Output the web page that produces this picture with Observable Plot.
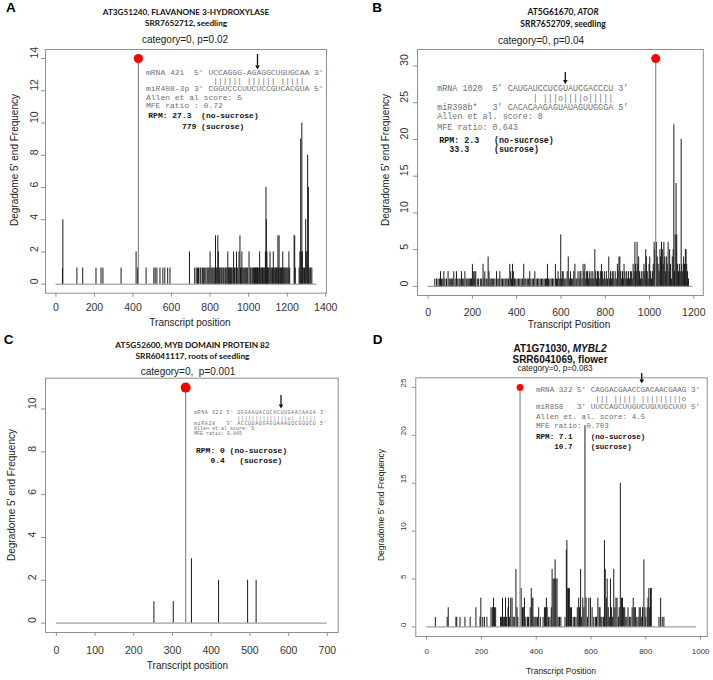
<!DOCTYPE html>
<html>
<head>
<meta charset="utf-8">
<script src="https://cdn.jsdelivr.net/npm/d3@7"></script>
<script src="https://cdn.jsdelivr.net/npm/@observablehq/plot@0.6"></script>
<style>
html,body{margin:0;padding:0;background:#fff;}
#root{position:relative;width:713px;height:680px;overflow:hidden;font-family:"Liberation Sans",Arial,sans-serif;color:#222;}
.pl{position:absolute;}
.pl svg{display:block;}
.abs{position:absolute;white-space:pre;line-height:1;}
.mono{font-family:"Liberation Mono","Courier New",monospace;color:#707070;}
.monob{font-family:"Liberation Mono","Courier New",monospace;color:#111;font-weight:bold;}
.cal{font-family:Lato,"Open Sans",sans-serif;font-weight:bold;color:#111;}
.arl{font-family:"Liberation Sans",Arial,sans-serif;color:#222;}
</style>
</head>
<body>
<div id="root"></div>
<script>
// ---------------- DATA ----------------
// Panel A: AT3G51240 (transcript position, degradome 5' end frequency)
const spikesA = [[34,1],[36,4],[109,1],[139,1],[208,1],[234,1],[244,1],[338,1],[416,2],[424,1],[468,1],[508,1],[515,1],[524,1],[540,1],[555,1],[565,1],[580,1],[592,1],[693,2],
[720,1],[728,1],[735,1],[740,1],[748,1],[752,1],[760,1],[765,1],[772,1],[778,1],[785,1],[790,1],[795,1],[800,2],[805,1],[810,1],[815,1],[820,1],[825,1],[828,3],[832,1],[836,1],[840,3],[843,2],[848,1],[852,1],[858,1],[862,1],[868,1],[872,1],[878,1],[882,1],[887,1],[892,2],[895,1],[898,1],[902,1],[905,1],[908,1],[912,1],[918,1],[922,2],[926,1],[930,1],[937,2],[940,1],[945,1],[950,2],[955,3],[958,1],[962,1],[965,2],[970,1],[975,1],[980,1],[985,1],[990,1],[995,1],
[1002,2],[1008,1],[1012,1],[1018,1],[1022,1],[1026,1],[1030,1],[1033,1],[1036,1],[1040,1],[1043,1],[1046,1],[1050,1],[1054,1],[1057,2],[1060,1],[1064,1],[1068,1],[1072,1],[1076,1],[1080,1],[1084,1],[1087,2],[1090,6],[1092,4],[1095,2],[1098,1],[1102,1],[1106,1],[1111,2],[1115,1],[1120,1],[1124,1],[1128,2],[1132,1],[1136,1],[1140,1],[1144,1],[1148,1],[1152,3],[1155,1],[1158,3],[1162,1],[1166,1],[1170,1],[1174,1],[1177,2],[1180,1],[1185,1],[1190,1],[1195,1],[1200,1],[1205,1],[1209,2],[1213,1],
[1236,3],[1239,3],[1242,1],[1262,1],[1266,2],[1270,9],[1273,2],[1276,10],[1279,2],[1284,1],[1290,1],[1296,4],[1298,2],[1302,2],[1306,8],[1310,6],[1313,1],[1318,1],[1322,1],[1328,1]];
const targetA = [428, 14];
const baseA = [0, 1355];
const xTicksA = [0,200,400,600,800,1000,1200,1400];
const yTicksA = [0,2,4,6,8,10,12,14];

// Panel B: AT5G61670
const spikesB = [[30,1],[38,1],[45,1],[52,1],[56,2],[60,1],[66,1],[71,2],[76,1],[83,1],[90,2],[95,1],[100,1],[105,1],[111,1],[116,2],[122,1],[128,2],[134,1],[140,1],[145,1],[151,2],[156,1],[161,1],[166,2],[172,1],[176,1],[181,1],[186,1],[191,1],[196,1],[200,3],[204,2],[208,1],[211,2],[215,2],[222,1],[228,1],[236,1],[242,1],[248,3],[252,1],[256,2],[262,1],[266,1],[271,4],[275,2],[280,1],[285,1],[290,1],[296,1],[302,1],[309,2],[315,1],[320,1],[324,2],[330,1],[336,1],[342,1],[348,1],[352,1],[357,1],[363,1],[369,3],[373,2],[377,1],[381,3],[385,2],[390,1],[396,1],[402,1],[408,1],[414,1],[420,1],[426,1],[432,3],[437,1],[442,1],[448,1],[454,1],[459,2],[464,1],[470,1],[476,1],[482,2],[488,1],[494,1],[500,1],[506,1],[512,1],[518,1],[524,1],[530,1],[535,1],[539,3],[544,1],[550,1],[556,1],[562,1],[568,1],[575,3],[580,1],[584,1],[587,2],[592,1],[596,1],[599,7],[603,1],[606,2],[610,2],[614,1],[618,1],[623,1],[628,2],[633,4],[638,1],[643,2],[648,1],[653,1],[658,2],[663,3],[668,1],[672,1],[677,2],[682,1],[686,2],[690,2],[695,1],[700,3],[704,2],[708,3],[712,1],[716,2],[720,2],[724,1],[728,2],[732,1],[736,2],[740,1],[744,2],[748,1],[753,5],[757,2],[761,1],[765,2],[769,2],[773,1],[778,2],[783,3],[787,2],[791,1],[796,2],[800,1],[805,2],[810,1],[816,4],[820,1],[824,2],[828,1],[832,2],[836,2],[840,1],[845,2],[850,1],[855,3],[858,2],[862,4],[866,4],[870,2],[874,1],[878,2],[882,1],[885,3],[889,2],[893,1],[897,2],[901,1],[905,2],[910,1],[914,2],[918,2],[922,1],[926,3],[930,2],[934,6],[937,3],[940,2],[944,6],[947,3],[951,4],[955,2],[959,1],[963,2],[967,1],[971,2],[975,3],[979,2],[983,5],[986,4],[990,2],[994,1],[998,3],[1001,4],[1005,2],[1009,1],[1013,2],[1017,3],[1021,6],[1024,5],[1032,6],[1035,4],[1039,3],[1043,2],[1047,5],[1050,4],[1054,6],[1058,5],[1062,3],[1065,6],[1069,4],[1073,2],[1076,4],[1080,3],[1084,6],[1088,2],[1091,5],[1095,3],[1099,1],[1103,4],[1107,5],[1110,22],[1113,2],[1116,7],[1120,14],[1123,7],[1127,3],[1131,2],[1135,3],[1139,2],[1143,20],[1146,3],[1150,2],[1154,4],[1158,3],[1162,5],[1165,5],[1168,3],[1172,2],[1176,1]];
const targetB = [1028, 31];
const baseB = [0, 1195];
const xTicksB = [0,200,400,600,800,1000,1200];
const yTicksB = [0,5,10,15,20,25,30];

// Panel C: AT5G52600
const spikesC = [[252,1],[302,1],[349,3],[419,2],[494,2],[516,2]];
const targetC = [334, 11];
const baseC = [0, 700];
const xTicksC = [0,100,200,300,400,500,600,700];
const yTicksC = [0,2,4,6,8,10];

// Panel D: AT1G71030
const spikesD = [[32,1],[75,1],[79,2],[107,1],[110,1],[122,1],[140,1],[159,1],[180,2],[195,1],[198,3],[205,1],[211,1],[220,1],[235,2],[240,2],[244,3],[248,2],[252,2],[270,1],[273,1],[277,3],[280,1],[284,1],[288,3],[292,1],[297,2],[299,3],[303,1],[307,3],[312,3],[316,1],[320,1],[326,6],[330,2],[333,1],[345,4],[350,2],[353,2],[357,3],[362,1],[368,1],[372,1],[378,2],[382,4],[385,3],[388,3],[392,1],[396,1],[400,1],[405,1],[409,2],[415,1],[425,1],[430,2],[434,2],[437,3],[440,2],[445,1],[450,1],[455,2],[458,6],[462,5],[466,5],[469,7],[472,5],[476,5],[480,1],[485,1],[490,1],[505,1],[510,8],[512,9],[515,4],[518,4],[521,4],[525,2],[529,2],[535,1],[540,1],[545,1],[550,2],[555,3],[558,2],[562,6],[565,1],[570,3],[574,2],[578,21],[582,3],[587,1],[592,3],[598,3],[604,2],[610,1],[616,1],[620,1],[625,3],[630,2],[633,2],[636,1],[640,1],[645,1],[649,9],[652,6],[656,3],[659,5],[663,2],[667,1],[671,5],[675,2],[679,1],[683,6],[687,2],[691,3],[695,3],[700,1],[703,2],[707,15],[711,3],[715,3],[719,2],[723,2],[727,1],[731,1],[735,2],[740,1],[745,1],[750,2],[754,3],[758,2],[762,2],[767,1],[772,1],[776,2],[780,2],[785,1],[788,2],[793,7],[797,2],[800,1],[805,2],[808,3],[811,4],[814,2],[817,4],[820,4],[848,1],[854,3],[860,1],[866,1]];
const targetD = [341, 25];
const baseD = [0, 985];
const xTicksD = [0,200,400,600,800,1000];
const yTicksD = [0,5,10,15,20,25];

// ---------------- DRAW ----------------
const root = document.getElementById("root");

function panel(cfg) {
  const sp = cfg.spikes.map(([p, v]) => ({p, v}));
  const tg = [{p: cfg.target[0], v: cfg.target[1]}];
  const svg = Plot.plot({
    width: cfg.box[2], height: cfg.box[3],
    marginTop: cfg.m[0], marginRight: cfg.m[1], marginBottom: cfg.m[2], marginLeft: cfg.m[3],
    style: {background: "transparent", fontFamily: '"Liberation Sans", Arial, sans-serif', color: "#333", overflow: "visible"},
    x: {domain: cfg.xDomain},
    y: {domain: cfg.yDomain},
    marks: [
      Plot.ruleY([0], {x1: cfg.base[0], x2: cfg.base[1], stroke: "#8a8a8a", strokeWidth: 1}),
      Plot.ruleX(sp, {x: "p", y1: 0, y2: "v", stroke: "#1a1a1a", strokeWidth: 1}),
      Plot.ruleX(tg, {x: "p", y1: 0, y2: "v", stroke: "#8a8a8a", strokeWidth: 1.2}),
      Plot.dot(tg, {x: "p", y: "v", r: cfg.r, fill: "#ff0000"}),
      Plot.frame({stroke: "#8f8f8f", strokeWidth: 1}),
      Plot.axisX({ticks: cfg.xTicks, tickFormat: d => String(d), tickSize: cfg.ts, tickPadding: cfg.xpad, fontSize: cfg.fs, label: null, stroke: "#8f8f8f", fill: "#333"}),
      Plot.axisY({ticks: cfg.yTicks, tickSize: cfg.ts, tickFormat: () => "", label: null, stroke: "#8f8f8f"}),
      Plot.text(cfg.yTicks, {y: d => d, text: d => String(d), frameAnchor: "left", dx: -cfg.ydx, rotate: -90, fontSize: cfg.fs, fill: "#333"})
    ]
  });
  const wrap = document.createElement("div");
  wrap.className = "pl";
  wrap.style.left = cfg.box[0] + "px";
  wrap.style.top = cfg.box[1] + "px";
  wrap.appendChild(svg);
  root.appendChild(wrap);
}

panel({box: [0, 0, 356, 330], m: [49, 30, 37.3, 45], xDomain: [-54, 1404], yDomain: [-0.56, 14.56],
  xTicks: xTicksA, yTicks: yTicksA, spikes: spikesA, target: targetA, base: baseA, r: 4.6, ts: 4, xpad: 6.2, fs: 10.5, ydx: 10.5});
panel({box: [356, 0, 357, 330], m: [49, 10.2, 35, 61], xDomain: [-48, 1243], yDomain: [-1.24, 32.24],
  xTicks: xTicksB, yTicks: yTicksB, spikes: spikesB, target: targetB, base: baseB, r: 4.5, ts: 4, xpad: 8.9, fs: 10.5, ydx: 13});
panel({box: [0, 330, 356, 350], m: [47.7, 18.3, 48, 45], xDomain: [-28, 728], yDomain: [-0.44, 11.44],
  xTicks: xTicksC, yTicks: yTicksC, spikes: spikesC, target: targetC, base: baseC, r: 5, ts: 4, xpad: 10.2, fs: 10.5, ydx: 13});
panel({box: [356, 330, 357, 350], m: [47.3, 6.3, 44, 59.3], xDomain: [-39.4, 1024], yDomain: [-1, 26],
  xTicks: xTicksD, yTicks: yTicksD, spikes: spikesD, target: targetD, base: baseD, r: 3.4, ts: 3.5, xpad: 8.6, fs: 8, ydx: 12.6});

// ---------------- TEXT ----------------
function put(html, x, y, cls, size, anchor, extra) {
  const d = document.createElement("div");
  d.className = "abs " + cls;
  d.innerHTML = html;
  d.style.left = x + "px";
  d.style.top = y + "px";
  d.style.fontSize = size + "px";
  d.style.transform = anchor === "c" ? "translate(-50%,-50%)" : anchor === "r" ? "translate(-50%,-50%) rotate(-90deg)" : "translate(0,-50%)";
  if (extra) d.style.cssText += extra;
  root.appendChild(d);
}

// panel letters
put("A", 10.8, 8, "arl", 13.5, "c", "font-weight:bold;color:#000");
put("B", 377, 8, "arl", 13.5, "c", "font-weight:bold;color:#000");
put("C", 8.5, 340, "arl", 13.5, "c", "font-weight:bold;color:#000");
put("D", 377.5, 340, "arl", 13.5, "c", "font-weight:bold;color:#000");

// Panel A texts
put("AT3G51240, FLAVANONE 3-HYDROXYLASE", 186, 11.7, "cal", 8.2, "c");
put("SRR7652712, seedling", 186, 22.7, "cal", 8.2, "c");
put("category=0, p=0.02", 185, 40, "arl", 10, "c");
put("Transcript position", 190, 323, "arl", 10, "c");
put("Degradome 5' end Frequency", 15, 160, "arl", 10, "r");
put("mRNA 421  5’ UCCAGGG-AGAGGCUGUGCAA 3’", 146, 72.7, "mono", 8, "l");
put("              |||||| |||||| |||||", 146, 80.7, "mono", 8, "l");
put("miR408-3p 3’ CGGUCCCUUCUCCGUCACGUA 5’", 146, 89.3, "mono", 8, "l");
put("Allen et al score: 5", 146, 97.7, "mono", 8, "l");
put("MFE ratio : 0.72", 146, 106, "mono", 8, "l");
put("RPM: 27.3  (no-sucrose)", 148.3, 116, "monob", 8, "l");
put("       779 (sucrose)", 148.3, 126.7, "monob", 8, "l");

// Panel B texts
put("AT5G61670, <i>ATOR</i>", 563, 12.3, "cal", 8.5, "c");
put("SRR7652709, seedling", 563, 24, "cal", 8.5, "c");
put("category=0, p=0.04", 541, 41, "arl", 10, "c");
put("Transcript Position", 569, 325, "arl", 10, "c");
put("Degradome 5' end Frequency", 386, 160, "arl", 10, "r");
put("mRNA 1020  5’ CAUGAUCCUCGUAUCGACCCU 3’", 437.3, 89.3, "mono", 8.4, "l");
put("                   | |||o||||o|||||", 437.3, 99, "mono", 8.4, "l");
put("miR398b*   3’ CACACAAGAGUAUAGUUGGGA 5’", 437.3, 108.3, "mono", 8.4, "l");
put("Allen et al. score: 8", 437.3, 117.3, "mono", 8.4, "l");
put("MFE ratio: 0.643", 437.3, 128.3, "mono", 8.4, "l");
put("RPM: 2.3   (no-sucrose)", 439.3, 140.7, "monob", 8.3, "l");
put("  33.3     (sucrose)", 439.3, 150, "monob", 8.3, "l");

// Panel C texts
put("AT5G52600, MYB DOMAIN PROTEIN 82", 192.5, 345, "cal", 8.3, "c");
put("SRR6041117, roots of seedling", 192.5, 356, "cal", 8.3, "c");
put("category=0,  p=0.001", 188, 371.7, "arl", 10, "c");
put("Transcript position", 187.5, 665.7, "arl", 10, "c");
put("Degradome 5' end Frequency", 12.3, 495, "arl", 10, "r");
const cSmall = "letter-spacing:0.6px";
put("mRNA 322 5’ UGGAAUACUCACUUGAACAAGA 3’", 194, 413.3, "mono", 5, "l", cSmall);
put("            ||||||||||||||o| |||||", 194, 418.6, "mono", 5, "l", cSmall);
put("miR828   3’ ACCUUAUGAGUAAAUUCGUUCU 5’", 194, 423.8, "mono", 5, "l", cSmall);
put("Allen et al score: 3", 194, 429.1, "mono", 5, "l");
put("MFE ratio: 0.845", 194, 434.4, "mono", 5, "l");
put("RPM: 0 (no-sucrose)", 196, 451, "monob", 8, "l");
put("   0.4   (sucrose)", 196, 461, "monob", 8, "l");

// Panel D texts
put("AT1G71030, <i>MYBL2</i>", 560, 349.3, "arl", 10, "c", "font-weight:bold;color:#111");
put("SRR6041069, flower", 560, 360, "arl", 10, "c", "font-weight:bold;color:#111");
put("category=0, p=0.083", 555, 369.3, "arl", 8.2, "c");
put("Transcript Position", 561, 671, "arl", 8.5, "c");
put("Degradome 5' end Frequency", 381, 505, "arl", 8.5, "r");
put("mRNA 322 5’ CAGGACGAACCGACAACGAAG 3’", 536, 391, "mono", 7.6, "l");
put("             ||| <span style=\"color:#d04040\">|</span>|||| |||||||||o", 536, 400, "mono", 7.6, "l");
put("miR858   3’ UUCCAGCUUGUCUGUUGCUUU 5’", 536, 408.3, "mono", 7.6, "l");
put("Allen et. al. score: 4.5", 536, 417.7, "mono", 7.6, "l");
put("MFE ratio: 0.703", 536, 426.7, "mono", 7.6, "l");
put("RPM: 7.1    (no-sucrose)", 536, 437.7, "monob", 7.6, "l");
put("    10.7    (sucrose)", 536, 447.7, "monob", 7.6, "l");

// cleavage-site arrows
const arrows = [[257.5, 54, 69.5], [565.3, 72, 84], [281, 395, 408.5], [641.7, 373, 383.5]];
const ns = "http://www.w3.org/2000/svg";
const ov = document.createElementNS(ns, "svg");
ov.setAttribute("width", 713); ov.setAttribute("height", 680);
ov.style.position = "absolute"; ov.style.left = "0"; ov.style.top = "0"; ov.style.pointerEvents = "none";
for (const [x, y1, y2] of arrows) {
  const l = document.createElementNS(ns, "line");
  l.setAttribute("x1", x); l.setAttribute("x2", x); l.setAttribute("y1", y1); l.setAttribute("y2", y2 - 3);
  l.setAttribute("stroke", "#111"); l.setAttribute("stroke-width", "1.3");
  ov.appendChild(l);
  const p = document.createElementNS(ns, "path");
  p.setAttribute("d", `M${x - 2.3},${y2 - 4}L${x + 2.3},${y2 - 4}L${x},${y2}Z`);
  p.setAttribute("fill", "#111");
  ov.appendChild(p);
}
root.appendChild(ov);
</script>
</body>
</html>
